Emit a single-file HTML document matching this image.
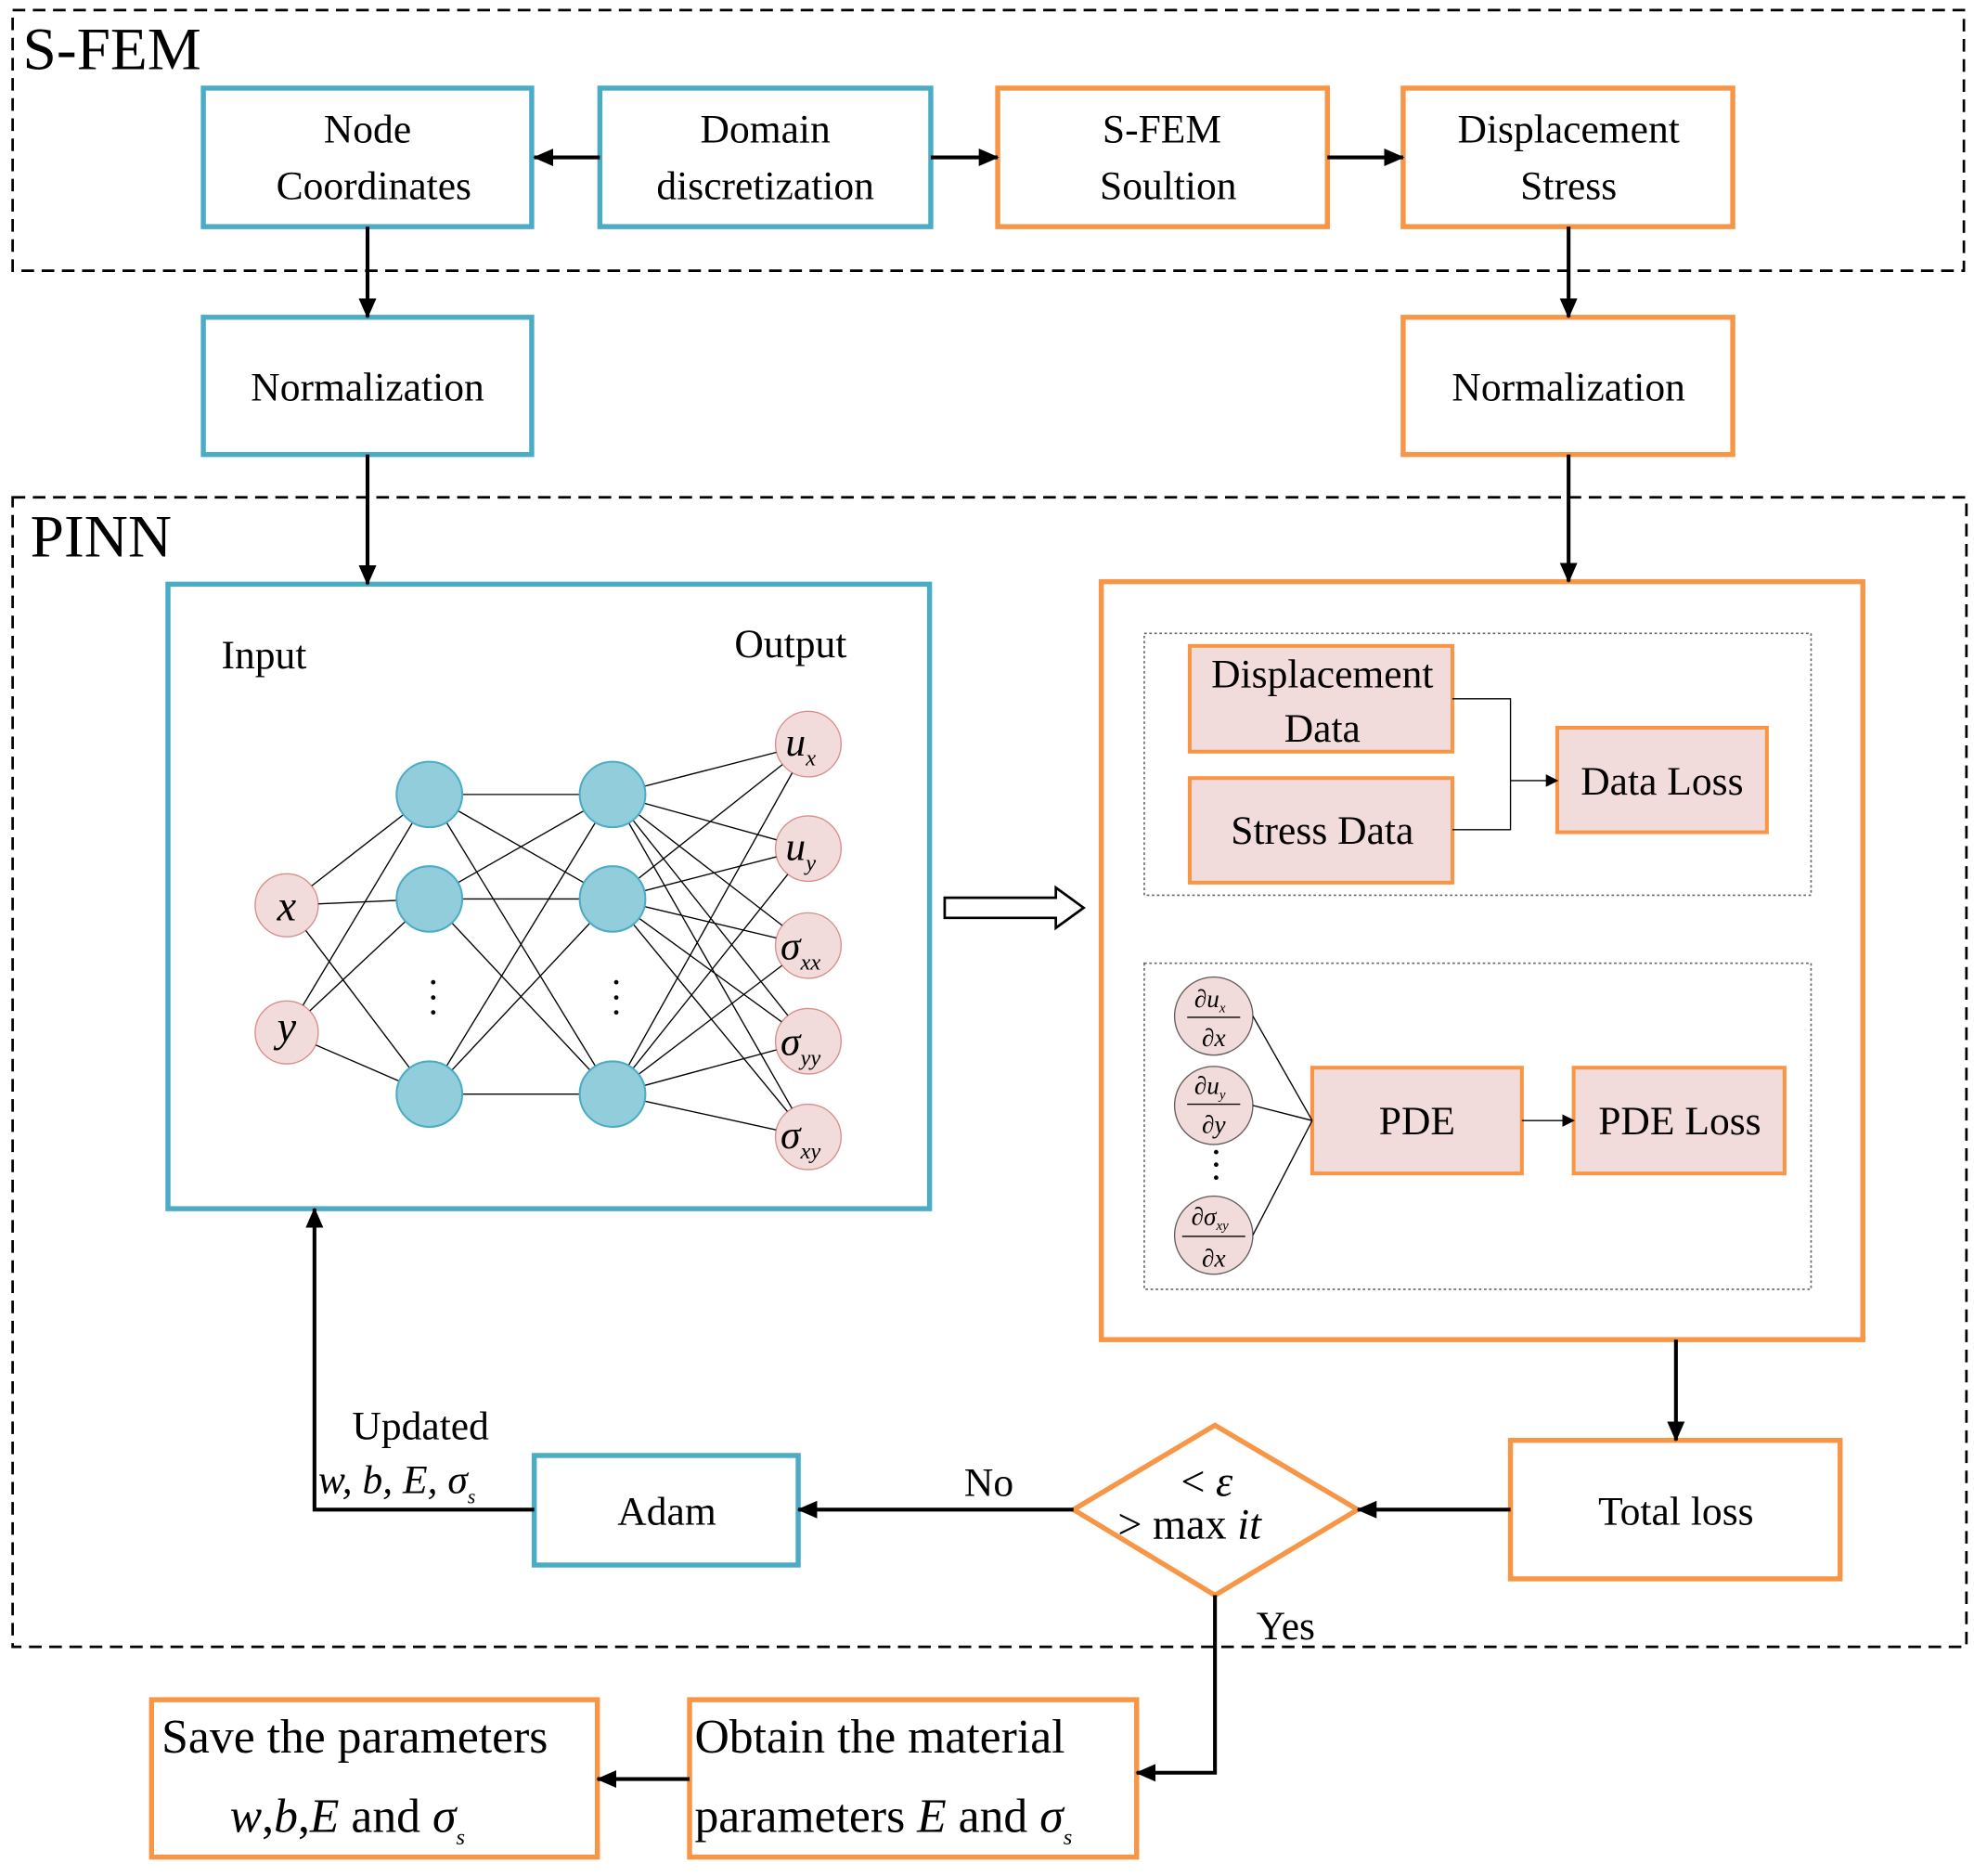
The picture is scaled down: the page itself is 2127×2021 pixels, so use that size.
<!DOCTYPE html>
<html><head><meta charset="utf-8"><style>html,body{margin:0;padding:0;background:#fff}svg{display:block}</style></head>
<body>
<svg width="2127" height="2021" viewBox="0 0 1563 1490" preserveAspectRatio="none" xmlns="http://www.w3.org/2000/svg" font-family="Liberation Serif, serif">
<defs>
<marker id="a" markerWidth="10" markerHeight="10" refX="9" refY="5" orient="auto" markerUnits="userSpaceOnUse"><path d="M0,0 L10,5 L0,10 Z" fill="#000"/></marker>
<marker id="b" markerWidth="16" markerHeight="14" refX="15" refY="7" orient="auto" markerUnits="userSpaceOnUse"><path d="M0,0 L16,7 L0,14 Z" fill="#000"/></marker>
</defs>
<g fill="none" stroke="#000" stroke-width="2" stroke-dasharray="10,6">
<rect x="10" y="8" width="1545" height="207"/>
<rect x="10" y="395" width="1547" height="913"/>
</g>
<g font-size="48"><text x="18" y="55">S-FEM</text><text x="24" y="442">PINN</text></g>
<g fill="#fff" stroke-width="4">
<rect x="161" y="70" width="260" height="110" stroke="#4BACC6"/>
<rect x="475" y="70" width="262" height="110" stroke="#4BACC6"/>
<rect x="790" y="70" width="261" height="110" stroke="#F79646"/>
<rect x="1111" y="70" width="261" height="110" stroke="#F79646"/>
<rect x="161" y="252" width="260" height="109" stroke="#4BACC6"/>
<rect x="1111" y="252" width="261" height="109" stroke="#F79646"/>
<rect x="133" y="464" width="603" height="496" stroke="#4BACC6"/>
<rect x="872" y="462" width="603" height="602" stroke="#F79646"/>
<rect x="1196" y="1144" width="261" height="110" stroke="#F79646"/>
<rect x="423" y="1156" width="209" height="87" stroke="#4BACC6"/>
<rect x="546" y="1350" width="354" height="125" stroke="#F79646"/>
<rect x="120" y="1350" width="353" height="125" stroke="#F79646"/>
<path d="M962,1132 L1075,1199 L962,1267 L850,1199 Z" stroke="#F79646"/>
</g>
<g fill="none" stroke="#666" stroke-width="1.2" stroke-dasharray="2,2">
<rect x="906" y="503" width="528" height="208"/>
<rect x="906" y="765" width="528" height="259"/>
</g>
<g fill="#F2DCDB" stroke="#F79646" stroke-width="3">
<rect x="942" y="513" width="208" height="84"/>
<rect x="942" y="618" width="208" height="83"/>
<rect x="1233" y="578" width="166" height="83"/>
<rect x="1039" y="848" width="166" height="84"/>
<rect x="1246" y="848" width="167" height="84"/>
</g>
<g stroke="#000" stroke-width="3" fill="none">
<line x1="475" y1="125" x2="423" y2="125" marker-end="url(#b)"/>
<line x1="737" y1="125" x2="790" y2="125" marker-end="url(#b)"/>
<line x1="1051" y1="125" x2="1111" y2="125" marker-end="url(#b)"/>
<line x1="291" y1="180" x2="291" y2="252" marker-end="url(#b)"/>
<line x1="1242" y1="180" x2="1242" y2="252" marker-end="url(#b)"/>
<line x1="291" y1="361" x2="291" y2="464" marker-end="url(#b)"/>
<line x1="1242" y1="361" x2="1242" y2="462" marker-end="url(#b)"/>
<line x1="1327" y1="1064" x2="1327" y2="1144" marker-end="url(#b)"/>
<line x1="1196" y1="1199" x2="1075" y2="1199" marker-end="url(#b)"/>
<line x1="850" y1="1199" x2="632" y2="1199" marker-end="url(#b)"/>
<polyline points="423,1199 249,1199 249,960" marker-end="url(#b)"/>
<polyline points="962,1267 962,1408 900,1408" marker-end="url(#b)"/>
<line x1="546" y1="1413" x2="473" y2="1413" marker-end="url(#b)"/>
</g>
<g stroke="#000" stroke-width="1" fill="none">
<polyline points="1150,555 1196,555 1196,659 1150,659"/>
<line x1="1196" y1="620" x2="1233" y2="620" marker-end="url(#a)"/>
<line x1="1205" y1="890" x2="1246" y2="890" marker-end="url(#a)"/>
<line x1="992" y1="807" x2="1039" y2="890"/><line x1="992" y1="878" x2="1039" y2="890"/><line x1="992" y1="981" x2="1039" y2="890"/>
</g>
<path d="M748,713 L836,713 L836,705 L858,721 L836,737 L836,729 L748,729 Z" fill="#fff" stroke="#000" stroke-width="2"/>
<g stroke="#000" stroke-width="1">
<g id="l1">
<line x1="227" y1="719" x2="340" y2="631"/><line x1="227" y1="719" x2="340" y2="714"/><line x1="227" y1="719" x2="340" y2="869"/>
<line x1="227" y1="820" x2="340" y2="631"/><line x1="227" y1="820" x2="340" y2="714"/><line x1="227" y1="820" x2="340" y2="869"/>
</g>
<line x1="340" y1="631" x2="485" y2="631"/><line x1="340" y1="631" x2="485" y2="714"/><line x1="340" y1="631" x2="485" y2="869"/>
<line x1="340" y1="714" x2="485" y2="631"/><line x1="340" y1="714" x2="485" y2="714"/><line x1="340" y1="714" x2="485" y2="869"/>
<line x1="340" y1="869" x2="485" y2="631"/><line x1="340" y1="869" x2="485" y2="714"/><line x1="340" y1="869" x2="485" y2="869"/>
<g>
<line x1="485" y1="631" x2="640" y2="591"/><line x1="485" y1="631" x2="640" y2="674"/><line x1="485" y1="631" x2="640" y2="751"/><line x1="485" y1="631" x2="640" y2="827"/><line x1="485" y1="631" x2="640" y2="903"/>
<line x1="485" y1="714" x2="640" y2="591"/><line x1="485" y1="714" x2="640" y2="674"/><line x1="485" y1="714" x2="640" y2="751"/><line x1="485" y1="714" x2="640" y2="827"/><line x1="485" y1="714" x2="640" y2="903"/>
<line x1="485" y1="869" x2="640" y2="591"/><line x1="485" y1="869" x2="640" y2="674"/><line x1="485" y1="869" x2="640" y2="751"/><line x1="485" y1="869" x2="640" y2="827"/><line x1="485" y1="869" x2="640" y2="903"/>
</g>
</g>
<g fill="#92CDDC" stroke="#4BACC6" stroke-width="1.5">
<circle cx="340" cy="631" r="26"/><circle cx="340" cy="714" r="26"/><circle cx="340" cy="869" r="26"/>
<circle cx="485" cy="631" r="26"/><circle cx="485" cy="714" r="26"/><circle cx="485" cy="869" r="26"/>
</g>
<g fill="#F2DCDB" stroke="#C0504D" stroke-width="1" stroke-opacity="0.6">
<circle cx="227" cy="719" r="25"/><circle cx="227" cy="820" r="25"/>
<circle cx="640" cy="591" r="26"/><circle cx="640" cy="674" r="26"/><circle cx="640" cy="751" r="26"/><circle cx="640" cy="827" r="26"/><circle cx="640" cy="903" r="26"/>
<circle cx="961" cy="807" r="31" stroke="#000"/><circle cx="961" cy="878" r="31" stroke="#000"/><circle cx="961" cy="981" r="31" stroke="#000"/>
</g>
<g font-size="30" text-anchor="middle" fill="#000">
<text x="343" y="790">·</text><text x="343" y="802">·</text><text x="343" y="814">·</text>
<text x="488" y="790">·</text><text x="488" y="802">·</text><text x="488" y="814">·</text>
<text x="963" y="925">·</text><text x="963" y="935">·</text><text x="963" y="945">·</text>
</g>
<g font-size="32" text-anchor="middle" fill="#000">
<text x="291" y="113">Node</text><text x="296" y="158">Coordinates</text>
<text x="606" y="113">Domain</text><text x="606" y="158">discretization</text>
<text x="920" y="113">S-FEM</text><text x="925" y="158">Soultion</text>
<text x="1242" y="113">Displacement</text><text x="1242" y="158">Stress</text>
<text x="291" y="318">Normalization</text>
<text x="1242" y="318">Normalization</text>
<text x="1047" y="546">Displacement</text><text x="1047" y="589">Data</text>
<text x="1047" y="670">Stress Data</text>
<text x="1316" y="631">Data Loss</text>
<text x="1122" y="901">PDE</text>
<text x="1330" y="901">PDE Loss</text>
<text x="1327" y="1211">Total loss</text>
<text x="528" y="1211">Adam</text>
<text x="783" y="1188">No</text>
<text x="1018" y="1302">Yes</text>
<text x="333" y="1143">Updated</text>
<text x="209" y="531" font-size="32">Input</text>
<text x="626" y="522" font-size="32">Output</text>
</g>
<g font-size="34" font-style="italic" text-anchor="middle">
<text x="227" y="731">x</text><text x="227" y="827">y</text>
</g>
<g font-size="32" font-style="italic">
<text x="622" y="600">u<tspan font-size="18" dy="8">x</tspan></text>
<text x="622" y="683">u<tspan font-size="18" dy="8">y</tspan></text>
<text x="618" y="762">σ<tspan font-size="18" dy="8">xx</tspan></text>
<text x="618" y="838">σ<tspan font-size="18" dy="8">yy</tspan></text>
<text x="618" y="912">σ<tspan font-size="18" dy="8">xy</tspan></text>
</g>
<g font-size="20" font-style="italic" text-anchor="middle">
<text x="958" y="800">∂u<tspan font-size="11" dy="4">x</tspan></text><line x1="940" y1="808" x2="982" y2="808" stroke="#000"/><text x="961" y="831">∂x</text>
<text x="958" y="869">∂u<tspan font-size="11" dy="4">y</tspan></text><line x1="940" y1="877" x2="982" y2="877" stroke="#000"/><text x="961" y="900">∂y</text>
<text x="958" y="973">∂σ<tspan font-size="11" dy="4">xy</tspan></text><line x1="936" y1="982" x2="986" y2="982" stroke="#000"/><text x="961" y="1006">∂x</text>
</g>
<g font-size="34">
<text x="935" y="1188">&lt; <tspan font-style="italic">ε</tspan></text>
<text x="885" y="1222">&gt; max <tspan font-style="italic">it</tspan></text>
</g>
<text x="252" y="1186" font-size="32" font-style="italic">w, b, E, σ<tspan font-size="16" dy="8">s</tspan></text>
<g font-size="38">
<text x="550" y="1392">Obtain the material</text>
<text x="550" y="1455">parameters <tspan font-style="italic">E</tspan> and <tspan font-style="italic">σ</tspan><tspan font-size="18" dy="10" font-style="italic">s</tspan></text>
<text x="128" y="1392">Save the parameters</text>
<text x="182" y="1455"><tspan font-style="italic">w</tspan>,<tspan font-style="italic">b</tspan>,<tspan font-style="italic">E</tspan> and <tspan font-style="italic">σ</tspan><tspan font-size="18" dy="10" font-style="italic">s</tspan></text>
</g>
</svg>
</body></html>
